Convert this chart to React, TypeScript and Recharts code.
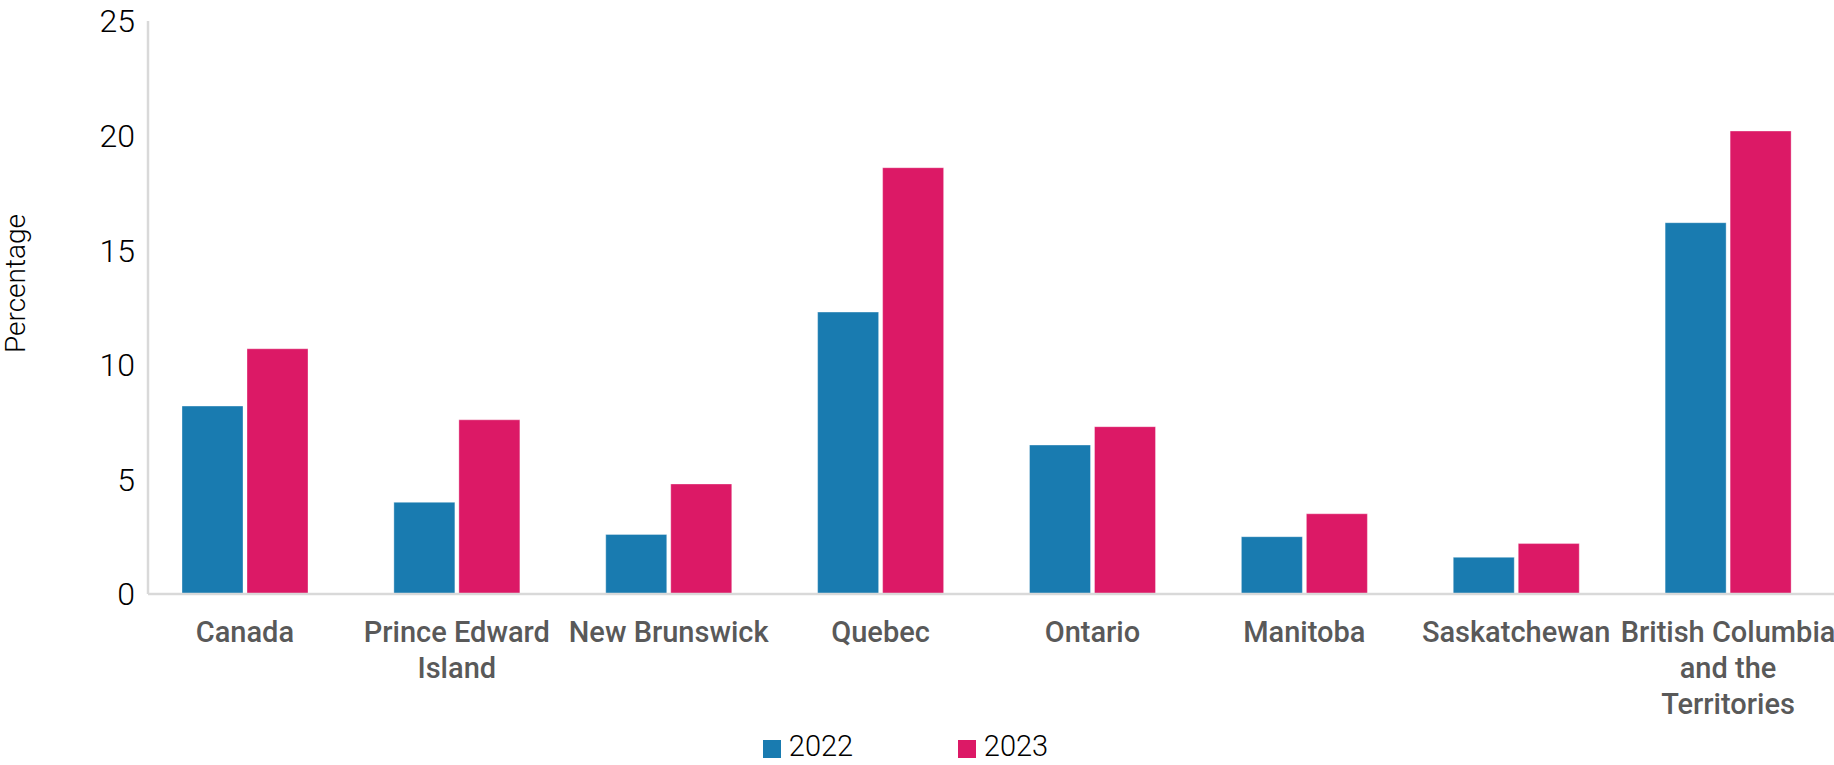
import React from "react";
import { BarChart, Bar, XAxis, YAxis, Legend } from "recharts";

const categories = [
  "Canada",
  "Prince Edward Island",
  "New Brunswick",
  "Quebec",
  "Ontario",
  "Manitoba",
  "Saskatchewan",
  "British Columbia and the Territories",
];
// how each category label wraps under the axis
const categoryLines = [
  ["Canada"],
  ["Prince Edward", "Island"],
  ["New Brunswick"],
  ["Quebec"],
  ["Ontario"],
  ["Manitoba"],
  ["Saskatchewan"],
  ["British Columbia", "and the", "Territories"],
];
const values2022 = [8.2, 4.0, 2.6, 12.3, 6.5, 2.5, 1.6, 16.2];
const values2023 = [10.7, 7.6, 4.8, 18.6, 7.3, 3.5, 2.2, 20.2];
const yTicks = [0, 5, 10, 15, 20, 25];
const seriesNames = ["2022", "2023"];

const BLUE = "#197bb0";
const PINK = "#dc1966";
const AXIS = "#d9d9d9";
const FONT = "Roboto, 'Noto Sans', sans-serif";

const data = categories.map((name, i) => ({
  name,
  y2022: values2022[i],
  y2023: values2023[i],
}));

function CategoryTick(props: any) {
  const { x, y, index } = props;
  const lines = categoryLines[index] || [];
  return (
    <text
      x={x}
      y={y}
      textAnchor="middle"
      fill="#595959"
      fontFamily={FONT}
      fontWeight={500}
      fontSize={29}
    >
      {lines.map((line, i) => (
        <tspan key={i} x={x} y={y + 48 + i * 36}>
          {line}
        </tspan>
      ))}
    </text>
  );
}

function YLabel(props: any) {
  const { viewBox } = props;
  const cy = viewBox.y + viewBox.height / 2 - 24;
  return (
    <text
      x={25}
      y={cy}
      transform={`rotate(-90 25 ${cy})`}
      textAnchor="middle"
      fill="#000"
      fontFamily={FONT}
      fontWeight={300}
      fontSize={28}
    >
      Percentage
    </text>
  );
}

function LegendBox() {
  const colors = [BLUE, PINK];
  return (
    <div
      style={{
        width: 1834,
        height: 37,
        display: "flex",
        justifyContent: "center",
        alignItems: "center",
        paddingRight: 23,
        boxSizing: "border-box",
        fontFamily: FONT,
        fontWeight: 300,
        fontSize: 29,
        color: "#000",
      }}
    >
      {seriesNames.map((s, i) => (
        <div
          key={s}
          style={{
            display: "flex",
            alignItems: "center",
            width: i === 0 ? 195 : "auto",
          }}
        >
          <span
            style={{
              display: "inline-block",
              width: 18,
              height: 18,
              background: colors[i],
              marginRight: 8,
              marginTop: 5,
            }}
          />
          <span style={{ lineHeight: "37px" }}>{s}</span>
        </div>
      ))}
    </div>
  );
}

export default function App() {
  return (
    <div style={{ position: "absolute", left: 0, top: 0, width: 1834, height: 765, background: "#fff" }}>
      <BarChart
        width={1834}
        height={765}
        data={data}
        margin={{ top: 21, right: 0, bottom: 0, left: 0 }}
        barSize={61}
        barGap={4}
      >
        <XAxis
          dataKey="name"
          interval={0}
          height={134}
          tickLine={false}
          tickSize={0}
          tickMargin={0}
          padding={{ left: -9, right: 0 }}
          axisLine={{ stroke: AXIS, strokeWidth: 2.5 }}
          tick={<CategoryTick />}
        />
        <YAxis
          width={148}
          domain={[0, 25]}
          ticks={yTicks}
          interval={0}
          tickLine={false}
          tickSize={0}
          tickMargin={13}
          axisLine={{ stroke: AXIS, strokeWidth: 2.5 }}
          tick={{ fill: "#000", fontFamily: FONT, fontWeight: 300, fontSize: 32 }}
          label={<YLabel />}
        />
        <Legend
          verticalAlign="bottom"
          height={37}
          wrapperStyle={{ left: 0, bottom: 0, width: 1834 }}
          content={<LegendBox />}
        />
        <Bar dataKey="y2022" name="2022" fill={BLUE} stroke="#ffffff" strokeOpacity={0.35} isAnimationActive={false} />
        <Bar dataKey="y2023" name="2023" fill={PINK} stroke="#ffffff" strokeOpacity={0.35} isAnimationActive={false} />
      </BarChart>
    </div>
  );
}
